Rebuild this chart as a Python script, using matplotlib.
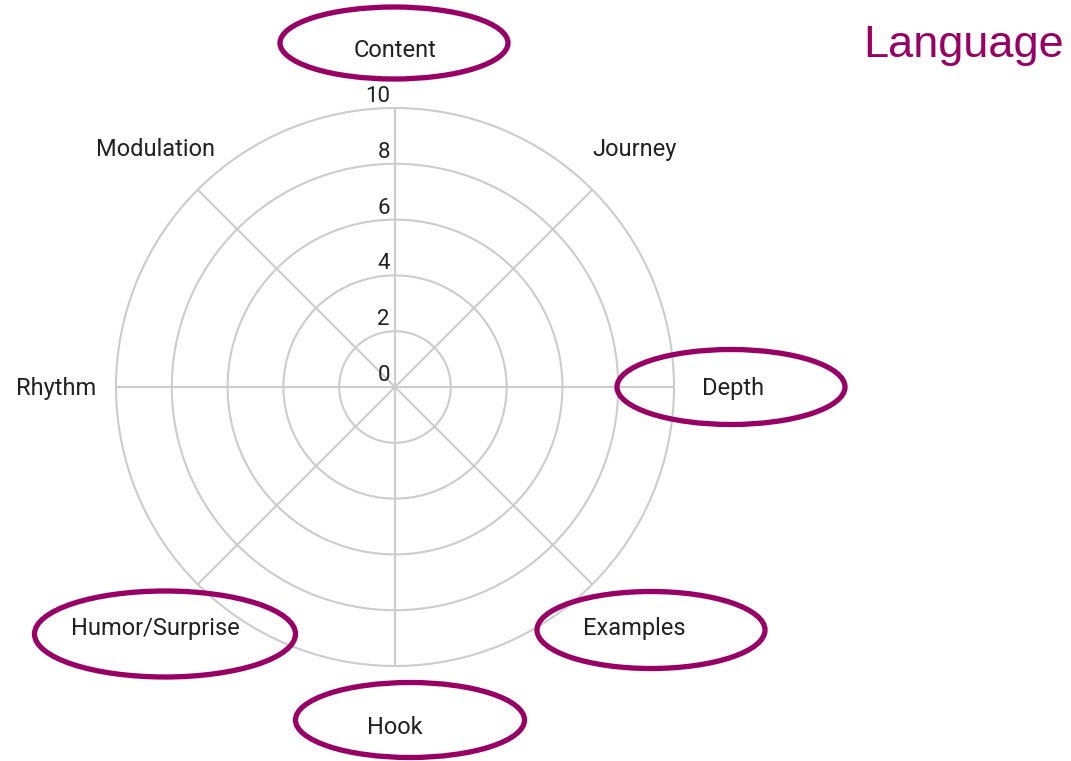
import numpy as np
import matplotlib
matplotlib.use("Agg")
import matplotlib.pyplot as plt
from matplotlib.patches import Ellipse

# ---- data ----
categories = ["Content", "Journey", "Depth", "Examples", "Hook",
              "Humor/Surprise", "Rhythm", "Modulation"]
tick_values = [0, 2, 4, 6, 8, 10]
tick_labels = ["0", "2", "4", "6", "8", "10"]
highlighted = ["Content", "Depth", "Examples", "Hook", "Humor/Surprise"]
title = "Language"

# ---- style ----
W, H = 1071, 761
PURPLE = "#990066"
GRID = "#cccccc"
TEXT = "#212121"
FONT = "Roboto"
LFS = 17
TFS = 16

fig = plt.figure(figsize=(W / 100, H / 100), dpi=100)
cx, cy, R = 395, 387, 279
ax = fig.add_axes([(cx - R) / W, (H - cy - R) / H, 2 * R / W, 2 * R / H],
                  projection="polar")
ax.set_theta_zero_location("N")
ax.set_theta_direction(-1)
ax.set_ylim(0, 10)

n = len(categories)
angles = np.arange(n) * 2 * np.pi / n
ax.set_xticks(angles)
ax.set_xticklabels([])
ax.set_yticks(tick_values[1:-1])
ax.set_yticklabels([])
ax.grid(True, color=GRID, linewidth=1.5)
ax.spines["polar"].set_color(GRID)
ax.spines["polar"].set_linewidth(1.5)
ax.tick_params(length=0)
ax.set_facecolor("none")

# radial tick labels just above each ring, left of the vertical spoke
for v, lab in zip(tick_values, tick_labels):
    ax.annotate(lab, xy=(0, v), xytext=(-5, 1), textcoords="offset pixels",
                ha="right", va="bottom", fontsize=TFS, family=FONT, color=TEXT,
                annotation_clip=False)

# category labels
for ang, cat in zip(angles, categories):
    deg = np.degrees(ang) % 360
    if np.isclose(deg, 90):
        r, ha = 11.0, "left"
    elif np.isclose(deg, 270):
        r, ha = 10.72, "right"
    else:
        r, ha = 12.15, "center"
    ax.annotate(cat, xy=(ang, r), xytext=(0, -2), textcoords="offset pixels",
                ha=ha, va="center", fontsize=LFS, family=FONT, color=TEXT,
                annotation_clip=False)

# hand-drawn highlight ellipses (figure pixel coords: center x, center y from top, w, h)
ellipse_geom = {
    "Content": (394, 43, 228, 72),
    "Depth": (731, 387, 228, 75),
    "Examples": (651, 630, 228, 77),
    "Hook": (410, 720, 229, 75),
    "Humor/Surprise": (165, 634, 261, 86),
}
for cat in highlighted:
    ex, ey, ew, eh = ellipse_geom[cat]
    e = Ellipse((ex, H - ey), ew, eh, transform=None, fill=False,
                edgecolor=PURPLE, linewidth=3.8)
    fig.add_artist(e)

fig.text(863 / W, 1 - 46 / H, title, ha="left", va="center", fontsize=32.5,
         family="Liberation Sans", color=PURPLE)

fig.savefig("out.png", dpi=100, facecolor="white")
